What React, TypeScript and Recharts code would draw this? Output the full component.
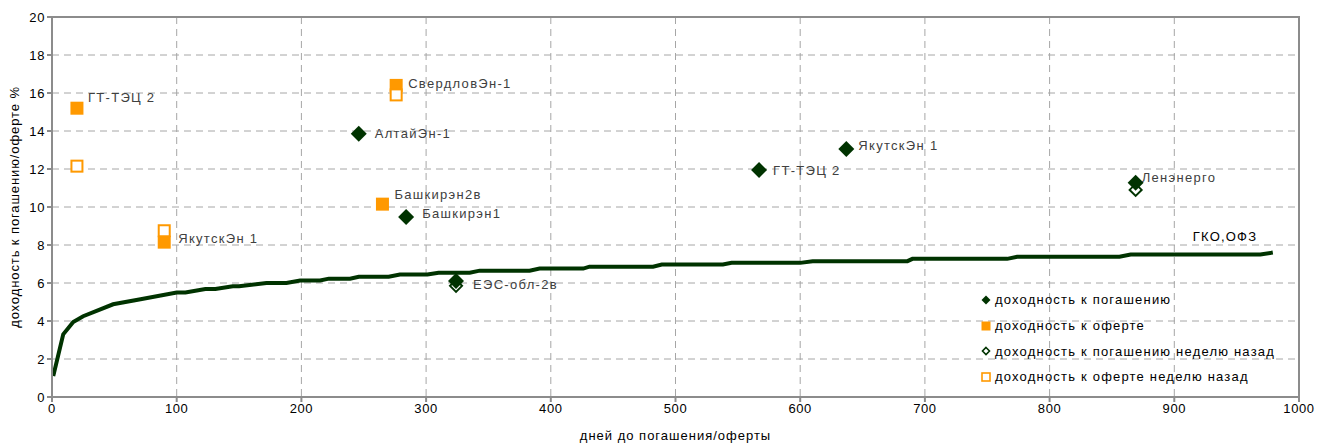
import {
  ComposedChart,
  CartesianGrid,
  LabelList,
  Line,
  ReferenceArea,
  Scatter,
  XAxis,
  YAxis,
} from "recharts";

const GREEN = "#003300";
const ORANGE = "#FF9900";
const AXIS = "#8c8c8c";
const GRID = "#a6a6a6";
const FONT = "'Liberation Sans', Arial, sans-serif";

// кривая ГКО,ОФЗ
const curveDays = [
  1, 9, 17, 25, 49, 71, 100, 107, 123, 131, 145, 150, 172, 188, 199, 215, 222,
  239, 246, 270, 279, 301, 310, 335, 343, 383, 391, 426, 431, 482, 489, 538,
  545, 600, 610, 686, 690, 766, 774, 856, 865, 969, 979,
];
const curveYields = [
  1.1, 3.3, 3.95, 4.25, 4.88, 5.14, 5.5, 5.5, 5.68, 5.68, 5.83, 5.83, 6.0,
  6.0, 6.13, 6.13, 6.23, 6.23, 6.33, 6.33, 6.45, 6.45, 6.54, 6.54, 6.65, 6.65,
  6.76, 6.76, 6.86, 6.86, 6.97, 6.97, 7.06, 7.06, 7.15, 7.15, 7.27, 7.27,
  7.38, 7.38, 7.5, 7.5, 7.6,
];

// доходность к погашению
const maturityNames = ["АлтайЭн-1", "Башкирэн1", "ЕЭС-обл-2в", "ГТ-ТЭЦ 2", "ЯкутскЭн 1", "Ленэнерго"];
const maturityDays = [246, 284, 324, 567, 637, 869];
const maturityYields = [13.85, 9.47, 6.1, 11.95, 13.05, 11.28];

// доходность к оферте
const offerNames = ["ГТ-ТЭЦ 2", "ЯкутскЭн 1", "СвердловЭн-1", "Башкирэн2в"];
const offerDays = [20, 90, 276, 265];
const offerYields = [15.2, 8.15, 16.4, 10.15];

// доходность к погашению неделю назад
const maturityPrevDays = [324, 869];
const maturityPrevYields = [5.85, 10.9];

// доходность к оферте неделю назад
const offerPrevDays = [20, 90, 276];
const offerPrevYields = [12.15, 8.75, 15.9];

const xTicks = [0, 100, 200, 300, 400, 500, 600, 700, 800, 900, 1000];
const yTicks = [0, 2, 4, 6, 8, 10, 12, 14, 16, 18, 20];

const labelOffsets: Record<string, [number, number]> = {
  "АлтайЭн-1": [16, 0],
  "Башкирэн1": [16, -4],
  "ЕЭС-обл-2в": [17, 3],
  "ГТ-ТЭЦ 2": [14, 0],
  "ЯкутскЭн 1": [12, -4],
  "Ленэнерго": [6, -5],
  "offer:ГТ-ТЭЦ 2": [11, -11],
  "offer:ЯкутскЭн 1": [14, -4],
  "СвердловЭн-1": [12, -2],
  "Башкирэн2в": [12, -10],
};

const curve = curveDays.map((x, i) => ({ x, y: curveYields[i] }));
const maturity = maturityDays.map((x, i) => ({ x, y: maturityYields[i], name: maturityNames[i] }));
const offer = offerDays.map((x, i) => ({ x, y: offerYields[i], name: offerNames[i] }));
const maturityPrev = maturityPrevDays.map((x, i) => ({ x, y: maturityPrevYields[i] }));
const offerPrev = offerPrevDays.map((x, i) => ({ x, y: offerPrevYields[i] }));

const diamond = (cx: number, cy: number, r: number) =>
  `M${cx},${cy - r}L${cx + r},${cy}L${cx},${cy + r}L${cx - r},${cy}Z`;

const FilledDiamond = (p: any) => <path d={diamond(p.cx, p.cy, 8)} fill={GREEN} />;
const HollowDiamond = (p: any) => (
  <path d={diamond(p.cx, p.cy, 6)} fill="none" stroke={GREEN} strokeWidth={2} />
);
const FilledSquare = (p: any) => (
  <rect x={p.cx - 6.5} y={p.cy - 6.5} width={13} height={13} fill={ORANGE} />
);
const HollowSquare = (p: any) => (
  <rect x={p.cx - 5.5} y={p.cy - 5.5} width={11} height={11} fill="#fff" stroke={ORANGE} strokeWidth={2} />
);

const pointLabel = (prefix: string) => (props: any) => {
  const { x, y, width, height, value } = props;
  const cx = x + (width || 0) / 2;
  const cy = y + (height || 0) / 2;
  const off = labelOffsets[prefix + value] || labelOffsets[value] || [12, 0];
  return (
    <text
      x={cx + off[0]}
      y={cy + off[1]}
      dy="0.35em"
      fill="#404040"
      fontSize={13}
      letterSpacing={1.3}
      fontFamily={FONT}
    >
      {value}
    </text>
  );
};

const legendItems = [
  { label: "доходность к погашению", kind: "fd" },
  { label: "доходность к оферте", kind: "fs" },
  { label: "доходность к погашению неделю назад", kind: "hd" },
  { label: "доходность к оферте неделю назад", kind: "hs" },
];

function LegendIcon({ kind }: { kind: string }) {
  return (
    <svg width={10} height={10} style={{ marginRight: 4 }}>
      {kind === "fd" && <path d={diamond(5, 5, 4.5)} fill={GREEN} />}
      {kind === "fs" && <rect x={0.5} y={0.5} width={9} height={9} fill={ORANGE} />}
      {kind === "hd" && <path d={diamond(5, 5, 3.5)} fill="none" stroke={GREEN} strokeWidth={1.6} />}
      {kind === "hs" && <rect x={1} y={1} width={8} height={8} fill="#fff" stroke={ORANGE} strokeWidth={1.6} />}
    </svg>
  );
}

function LegendBox() {
  return (
    <div
      style={{
        position: "absolute",
        left: 981,
        top: 287,
        fontFamily: FONT,
        fontSize: 13,
        letterSpacing: 1.2,
        color: "#000",
      }}
    >
      {legendItems.map((it) => (
        <div key={it.kind} style={{ display: "flex", alignItems: "center", height: 25.7, whiteSpace: "nowrap" }}>
          <LegendIcon kind={it.kind} />
          <span>{it.label}</span>
        </div>
      ))}
    </div>
  );
}

export default function App() {
  const lastIdx = curve.length - 1;
  return (
    <div style={{ position: "relative", width: 1331, height: 445, background: "#fff" }}>
      <style>{"body{margin:0}"}</style>
      <ComposedChart
        width={1331}
        height={445}
        margin={{ top: 17, right: 32, left: 0, bottom: 0 }}
        style={{ fontFamily: FONT }}
      >
        <CartesianGrid stroke={GRID} strokeDasharray="7 5" />
        <ReferenceArea x1={0} x2={1000} y1={0} y2={20} fill="none" stroke={AXIS} strokeWidth={2} ifOverflow="visible" />
        <XAxis
          type="number"
          dataKey="x"
          domain={[0, 1000]}
          ticks={xTicks}
          allowDataOverflow
          height={48}
          tickSize={5}
          stroke={AXIS}
          strokeWidth={2}
          tick={{ fontSize: 13, fill: "#000", letterSpacing: 0.6 }}
          label={{
            content: (p: any) => {
              const vb = p.viewBox || { x: 52, y: 397, width: 1247 };
              return (
                <text
                  x={vb.x + vb.width / 2}
                  y={440}
                  textAnchor="middle"
                  fontSize={13}
                  letterSpacing={1}
                  fill="#000"
                  fontFamily={FONT}
                >
                  дней до погашения/оферты
                </text>
              );
            },
          }}
        />
        <YAxis
          type="number"
          dataKey="y"
          domain={[0, 20]}
          ticks={yTicks}
          width={52}
          tickSize={5}
          stroke={AXIS}
          strokeWidth={2}
          tick={{ fontSize: 13, fill: "#000", letterSpacing: 0.6 }}
          label={{
            content: (p: any) => {
              const vb = p.viewBox || { y: 17, height: 380 };
              const cy = vb.y + vb.height / 2;
              return (
                <text
                  x={14}
                  y={cy}
                  transform={`rotate(-90 14 ${cy})`}
                  textAnchor="middle"
                  dominantBaseline="central"
                  fontSize={13}
                  letterSpacing={0.9}
                  fill="#000"
                  fontFamily={FONT}
                >
                  доходность к погашению/оферте %
                </text>
              );
            },
          }}
        />
        <Line
          data={curve}
          dataKey="y"
          type="linear"
          stroke={GREEN}
          strokeWidth={4}
          dot={false}
          activeDot={false}
          isAnimationActive={false}
        >
          <LabelList
            dataKey="y"
            content={(p: any) =>
              p.index === lastIdx ? (
                <text x={p.x - 80} y={p.y - 12} fontSize={13} letterSpacing={1.2} fill="#000" fontFamily={FONT}>
                  ГКО,ОФЗ
                </text>
              ) : null
            }
          />
        </Line>
        <Scatter data={maturity} dataKey="y" shape={FilledDiamond} isAnimationActive={false}>
          <LabelList dataKey="name" content={pointLabel("")} />
        </Scatter>
        <Scatter data={offer} dataKey="y" shape={FilledSquare} isAnimationActive={false}>
          <LabelList dataKey="name" content={pointLabel("offer:")} />
        </Scatter>
        <Scatter data={maturityPrev} dataKey="y" shape={HollowDiamond} isAnimationActive={false} />
        <Scatter data={offerPrev} dataKey="y" shape={HollowSquare} isAnimationActive={false} />
      </ComposedChart>
      <LegendBox />
    </div>
  );
}
